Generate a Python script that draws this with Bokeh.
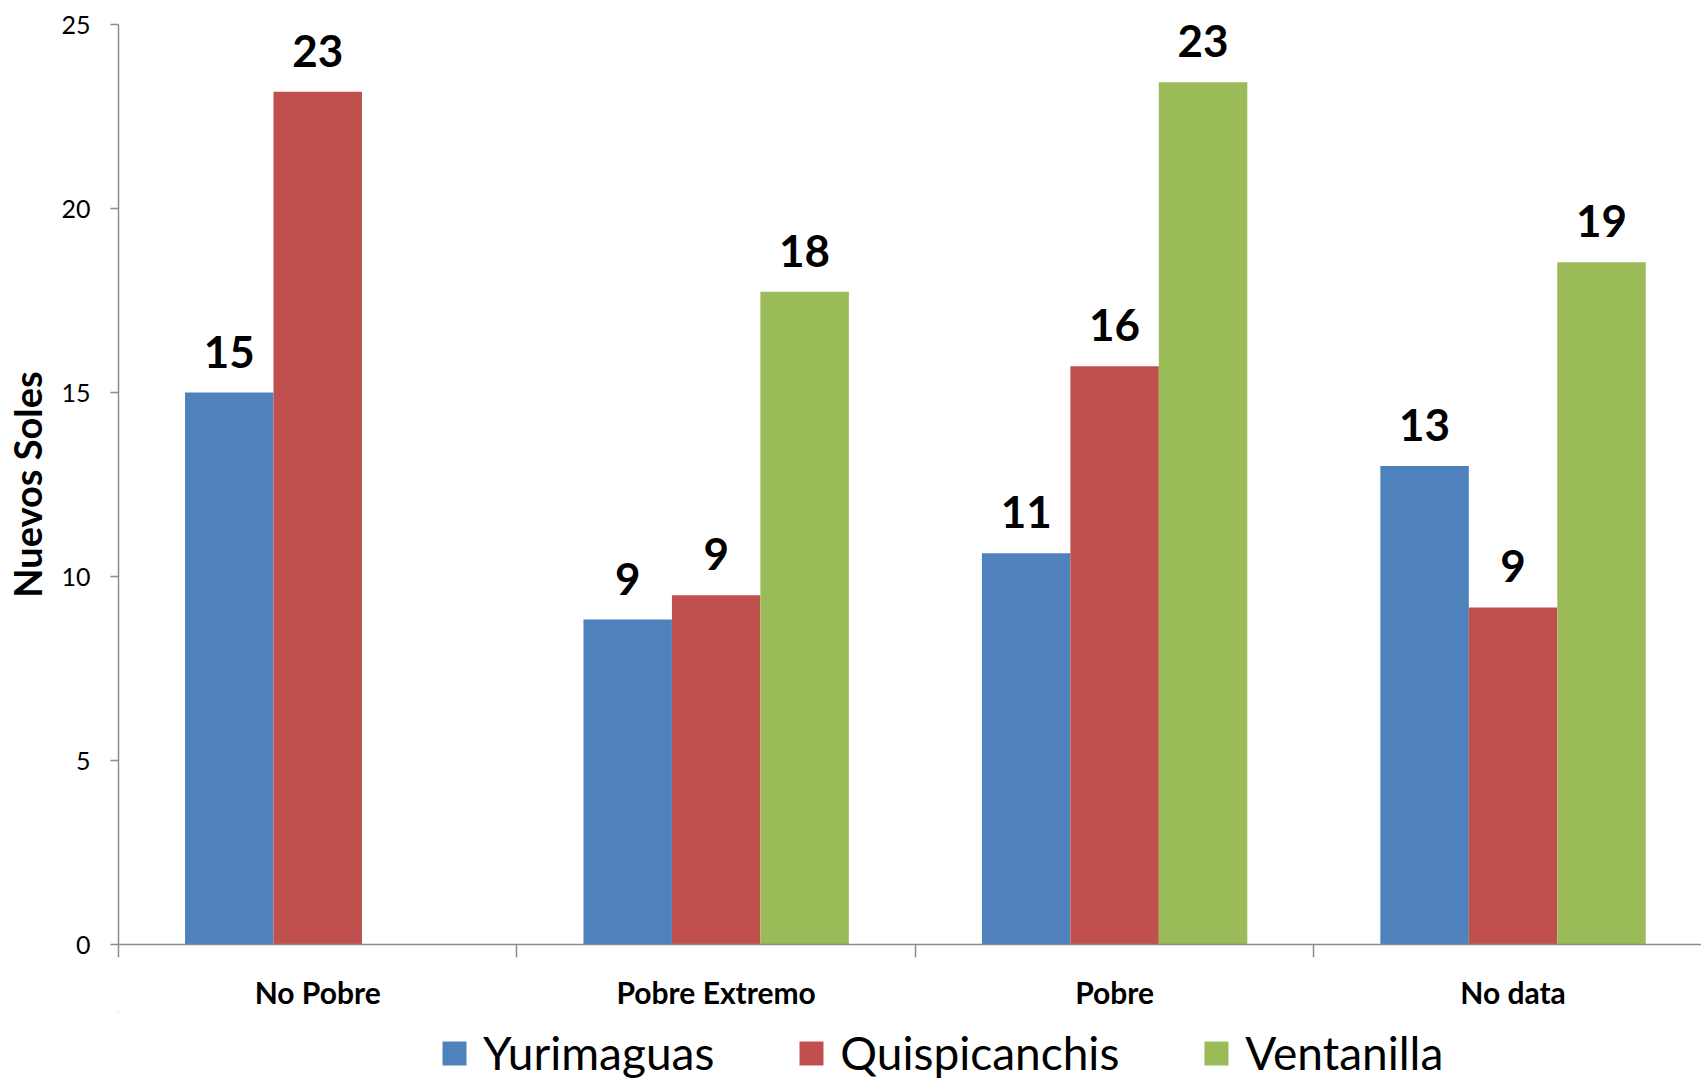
import math
from bokeh.plotting import figure
from bokeh.layouts import column
from bokeh.models import ColumnDataSource, FixedTicker, Legend, LegendItem, Range1d
from bokeh.transform import dodge
from bokeh.core.properties import value
from bokeh.embed import file_html
from bokeh.resources import INLINE

categories = ["No Pobre", "Pobre Extremo", "Pobre", "No data"]
series_names = ["Yurimaguas", "Quispicanchis", "Ventanilla"]
yurimaguas = [15.0, 8.83, 10.63, 13.0]
quispicanchis = [23.17, 9.49, 15.71, 9.16]
ventanilla = [float("nan"), 17.74, 23.43, 18.54]
colors = ["#4F81BD", "#C0504D", "#9BBB59"]
y_ticks = [0, 5, 10, 15, 20, 25]

FONT = "Lato"
bar_w = 0.222
offsets = [-bar_w, 0.0, bar_w]

centers = [i + 0.5 for i in range(len(categories))]

p = figure(width=1701, height=1012, output_backend="svg", toolbar_location=None,
           x_range=Range1d(0, 3.973), y_range=Range1d(0, 25),
           min_border_left=118, min_border_right=0, min_border_top=24,
           min_border_bottom=68)
p.outline_line_color = None
p.xgrid.visible = False
p.ygrid.visible = False

sources = []
for name, vals, col, off in zip(series_names, [yurimaguas, quispicanchis, ventanilla], colors, offsets):
    src = ColumnDataSource(dict(x=centers, top=vals))
    sources.append(src)
    p.vbar(x=dodge("x", off), top="top", width=bar_w, source=src,
           fill_color=col, line_color=None)
    lx, ly, lt = [], [], []
    for c, v in zip(centers, vals):
        if not math.isnan(v):
            lx.append(c)
            ly.append(v)
            lt.append(str(int(round(v))))
    lsrc = ColumnDataSource(dict(x=lx, y=ly, t=lt))
    p.text(x=dodge("x", off), y="y", text="t", source=lsrc,
           text_font=value(FONT), text_font_style="bold", text_font_size="44px",
           text_align="center", text_baseline="alphabetic", y_offset=-41,
           text_color="black")

# y axis
ya = p.yaxis[0]
ya.ticker = FixedTicker(ticks=y_ticks)
ya.axis_label = "Nuevos Soles"
ya.axis_label_text_font = FONT
ya.axis_label_text_font_style = "bold"
ya.axis_label_text_font_size = "38px"
ya.axis_label_text_color = "black"
ya.axis_label_standoff = 8
ya.major_label_text_font = FONT
ya.major_label_text_font_size = "25px"
ya.major_label_text_color = "black"
ya.major_label_standoff = 20
ya.major_tick_out = 8
ya.major_tick_in = 0
ya.minor_tick_line_color = None
ya.axis_line_color = "#8c8c8c"
ya.axis_line_width = 1.5
ya.major_tick_line_color = "#8c8c8c"
ya.major_tick_line_width = 1.5

# x axis
xa = p.xaxis[0]
xa.ticker = FixedTicker(ticks=centers, minor_ticks=list(range(len(categories) + 1)))
xa.major_label_overrides = {c: n for c, n in zip(centers, categories)}
xa.major_label_text_font = FONT
xa.major_label_text_font_style = "bold"
xa.major_label_text_font_size = "30px"
xa.major_label_text_color = "black"
xa.major_label_standoff = 16
xa.major_tick_out = 0
xa.major_tick_in = 0
xa.major_tick_line_color = None
xa.minor_tick_out = 13
xa.minor_tick_in = 0
xa.minor_tick_line_color = "#8c8c8c"
xa.minor_tick_line_width = 1.5
xa.axis_line_color = "#8c8c8c"
xa.axis_line_width = 1.5

# legend strip below the chart (its bars lie far outside its visible ranges)
lg = figure(width=1701, height=68, output_backend="svg", toolbar_location=None,
            x_range=Range1d(100, 101), y_range=Range1d(-200, -100),
            min_border_left=0, min_border_right=0, min_border_top=0, min_border_bottom=0)
lg.outline_line_color = None
lg.axis.visible = False
lg.grid.visible = False
items = []
for name, col, off, src in zip(series_names, colors, offsets, sources):
    r = lg.vbar(x=dodge("x", off), top="top", width=bar_w, source=src,
                fill_color=col, line_color=None)
    items.append(LegendItem(label=name, renderers=[r]))
legend = Legend(items=items, orientation="horizontal", location=(321, 0),
                label_text_font=FONT, label_text_font_size="46px", label_text_color="black",
                glyph_width=30, glyph_height=30, label_standoff=14,
                spacing=82, padding=0, margin=0,
                border_line_color=None, background_fill_alpha=0)
lg.add_layout(legend, "center")

layout = column(p, lg, spacing=0)
open("out.html", "w").write(file_html(layout, INLINE))
